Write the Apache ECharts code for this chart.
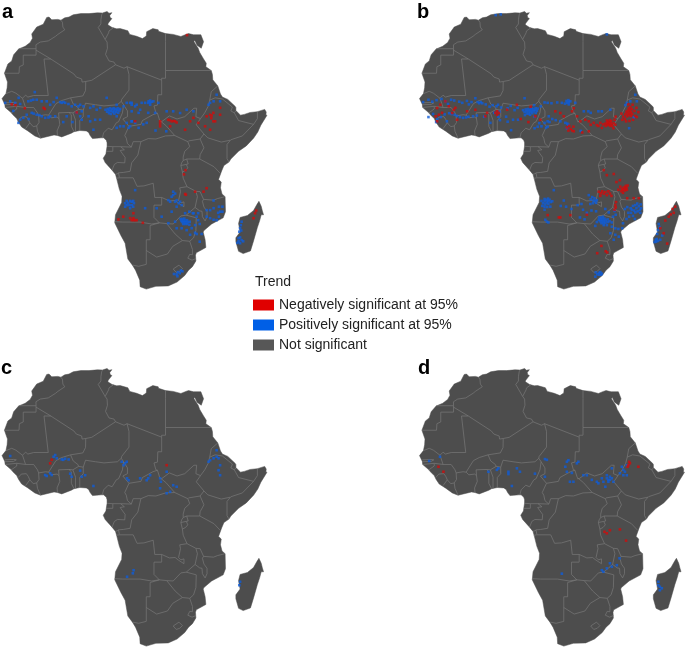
<!DOCTYPE html>
<html><head><meta charset="utf-8">
<style>html,body{margin:0;padding:0;background:#fff}#c{width:685px;height:647px}</style>
<script src="https://cdn.jsdelivr.net/npm/echarts@6/dist/echarts.min.js"></script>
</head><body><div id="c"></div>
<script>
const panelLabels = ['a','b','c','d'];
const legendNames = ['Negatively significant at 95%','Positively significant at 95%','Not significant'];
const legendTitle = 'Trend';

const coastline = [[-5.9,35.8],[-5.3,35.9],[-4.6,35.2],[-3,35.3],[-2.2,35.1],[-1.2,35.7],[-0.1,35.9],[1,36.5],[3,36.8],[5.1,36.8],[7.3,37],[8.6,36.95],[9.8,37.35],[10.3,36.9],[11.05,37.05],[10.5,36.3],[10.6,35.8],[11.05,35.5],[10.1,34.3],[10,33.9],[11.1,33.2],[12.3,32.85],[13.2,32.9],[15.2,32.35],[15.7,31.4],[17.5,30.9],[19,30.3],[20,31],[20.1,32.1],[21.7,32.9],[23.1,32.6],[23.2,32.2],[25,31.6],[27,31.4],[29,30.85],[30.3,31.4],[31,31.6],[32.3,31.3],[34.2,31.3],[34.9,29.5],[34.3,27.8],[33.2,28.6],[32.6,29.9],[32.4,29.5],[33.5,27.8],[33.9,26.7],[34.9,25],[35.6,23.9],[35.5,23],[36.9,22],[37.2,21],[37.3,19.6],[38.6,18],[39.3,15.9],[39.8,15.1],[41.2,14.5],[43.1,12.7],[43.3,12.4],[43.3,11.6],[44.5,10.4],[45.5,10.6],[47,11.1],[48.9,11.3],[50.8,11.9],[51.2,11.2],[51.1,10.4],[51.4,10.4],[50.8,9.4],[49.8,7.8],[49,6],[47.9,4.4],[46,2.4],[44,1],[42,-1],[41.5,-1.8],[40.2,-2.7],[39.6,-4.1],[38.8,-6.3],[39.5,-7],[39.3,-8.5],[39.7,-10.1],[40.5,-10.8],[40.6,-14.7],[40,-16.3],[37,-17.9],[35,-19.6],[34.8,-20],[35.3,-22],[35.5,-24],[33,-25.4],[32.8,-26],[32.9,-27.5],[32,-29],[31,-29.9],[30,-31.3],[28,-33],[25.7,-34],[22.5,-34.1],[20,-34.83],[18.4,-34.2],[18.3,-32.5],[17.2,-29.9],[16.4,-28.6],[15.2,-27],[14.5,-22.9],[13.4,-20.9],[11.8,-17.6],[12,-15.5],[13.6,-12.3],[13.7,-10.7],[13,-8.9],[12.3,-6.1],[12,-5],[11.1,-3.9],[9.3,-1.9],[8.8,-0.8],[9.5,0.3],[9.6,1],[9.8,2.3],[9.8,3.2],[9.6,3.9],[8.9,4.5],[8.3,4.5],[7,4.4],[6,4.3],[5.4,5.1],[5,5.9],[4.4,6.3],[2.7,6.4],[1.2,6.1],[0.5,5.7],[-2,4.75],[-3.1,5.1],[-4,5.25],[-7.5,4.4],[-9,5],[-10.8,6.3],[-12.4,7.3],[-13.2,8.5],[-13.7,9.5],[-14.7,10.5],[-15.1,11],[-16.7,12.4],[-16.8,13.2],[-17.53,14.7],[-16.5,16],[-16.2,17.5],[-16.1,19],[-16.9,21.3],[-16,23.7],[-15,24.5],[-14.5,26.1],[-13.2,27.6],[-11.5,28.3],[-10.2,29.3],[-9.6,30.4],[-9.8,31.5],[-8.5,33.3],[-6.8,34.05],[-5.9,35.8]];
const madagascar = [[49.3,-12],[49.9,-13.3],[50.2,-14.5],[50.5,-15.5],[49.9,-15.5],[49.5,-17],[48.9,-18.8],[47.9,-22.3],[47.1,-24.9],[45.2,-25.6],[44,-25],[43.3,-22.5],[43.3,-21.5],[44.4,-20],[44,-17.8],[44.4,-16.2],[46.3,-15.7],[47.9,-14.4],[48.8,-12.8],[49.3,-12]];

const borders = [
[[-2.2,35.1],[-1.8,34.5],[-1.7,33.3],[-1.2,32.6],[-3,31.4],[-3.6,30.9],[-5.5,29.7],[-7.6,29.4],[-8.7,28.7],[-8.67,27.67]],
[[-13.2,27.67],[-8.67,27.67],[-8.67,26],[-12,26],[-12,23.45],[-13,23],[-13.1,21.3],[-16.9,21.3]],
[[-8.67,27.3],[-4.83,25],[1.17,21.1],[1.8,20.3],[3.2,19.8],[3.3,19],[4.25,19.15],[5.8,19.45],[12,23.5],[11.6,24.2],[10.3,24.5],[9.4,26.2],[9.9,27.8],[9.8,29.4],[9.3,30.1],[7.5,33.2],[8.2,34.1],[8.2,35.2],[8.4,36.5],[8.6,36.95]],
[[-4.83,25],[-6.6,25],[-5.5,15.5],[-9.3,15.5],[-10.8,15.1],[-11.4,15.6],[-12.2,14.8]],
[[-16.5,16],[-15,16.6],[-13.9,16.1],[-12.2,14.8]],
[[9.3,30.1],[10.2,31.8],[10.3,32.3],[11.5,33.15]],
[[12,23.5],[14.2,22.6],[15,23],[24,19.5],[24,20],[25,20],[25,22],[25,29.5],[25,31.6]],
[[25,22],[36.9,22]],
[[24,19.5],[24,15.7],[23,15.7],[22.9,13],[22,12.8],[22.5,11],[22.9,10.9],[21.7,10.5],[19,9],[18.6,8],[15.5,7.5]],
[[15,23],[15.5,21],[15.5,16.9],[13.6,14.5],[13.5,14]],
[[14.1,13.1],[15.1,11.5],[15.1,10],[13.9,9.4],[15.5,7.5]],
[[4.25,19.15],[4.2,16.8],[3.5,15.4],[0.3,14.9],[1,13.3],[2.2,12.4],[2.4,11.9],[3.6,11.7],[4.2,13.5],[6.8,13.1],[9,12.8],[12.5,13.1],[13.5,14],[14.1,13.1]],
[[0.3,14.9],[-2,14.2],[-3.5,13.4],[-4.4,12],[-5.4,10.4],[-6.2,10.5],[-8,10.2],[-8.3,11],[-9.3,12.4],[-11.4,12.4],[-12.2,14.8]],
[[-11.4,12.4],[-13.7,12.7],[-16.7,12.4]],
[[-13.7,12.7],[-13.7,12],[-15.1,11]],
[[-16.8,13.6],[-14.5,13.7],[-13.8,13.6],[-14.5,13.2],[-16.8,13.1]],
[[-13.3,9],[-12.5,9.9],[-11.2,10],[-10.7,9.3],[-10.3,8.4],[-11.4,6.9]],
[[-10.3,8.4],[-9.4,7.4],[-8.5,7.6],[-8.3,6.2],[-7.5,4.4]],
[[-8.5,7.6],[-7.9,8.5],[-8,10.2]],
[[-5.4,10.4],[-4.7,9.7],[-3.2,9.9],[-2.7,9.5],[-2.5,8],[-3.2,6.3],[-3.1,5.1]],
[[-2.7,9.5],[-2.8,11],[-0.1,11.1],[0.5,10.5],[0.5,7.5],[1.2,6.1]],
[[-0.1,11.1],[0.9,11],[2.4,11.9]],
[[0.9,11],[1.6,9.1],[1.6,6.2]],
[[3.6,11.7],[3.6,10],[2.7,9],[2.7,6.4]],
[[8.6,4.6],[8.9,5.8],[10.1,7],[11.1,6.6],[12.2,8.4],[12.8,8.7],[13.8,11],[14.1,13.1]],
[[15.5,7.5],[14.4,5.1],[14.8,4.4],[15.1,3],[16.1,2.1],[13.3,2.2],[11.3,2.2],[9.8,2.3]],
[[11.3,2.2],[11.3,1],[9.6,1]],
[[13.3,2.2],[14.3,1.4],[13.2,1.2],[14.5,-0.6],[14.4,-2],[12.5,-1.9],[11.7,-2.4],[11.1,-3.9]],
[[16.1,2.1],[16.6,3.5],[18.6,3.5],[20.5,4.3],[22.5,4.2],[25,5],[27.4,5.1],[30.8,3.5]],
[[22.9,10.9],[23.5,9],[25.1,7.7],[27.4,5.1]],
[[23.5,8.7],[24,8.7],[26,10.2],[28,9.4],[30,10],[32.4,12.2],[33.1,12.2],[32.9,10],[34.1,9.5],[33,7.9],[35,5.5],[34,4.2],[31,3.7],[30.8,3.5]],
[[34.1,9.5],[35.2,11],[36.1,12.7],[36.5,14.3],[36.9,16.5],[38.6,18]],
[[36.5,14.3],[37.9,14.9],[39.8,14.6],[42.4,12.5],[42,11.5],[42.9,11],[43.3,11.5]],
[[42.9,11],[44,9],[47.9,8],[45,5],[42,4]],
[[48.9,11.3],[48.9,9.5],[47.9,8]],
[[41.9,3.9],[41,2.8],[41,-0.9],[41.5,-1.8]],
[[41.9,3.9],[39.5,3.4],[36,4.5],[35,5.5]],
[[34,4.2],[35,1.9],[34,0.1],[33.9,-1],[30.5,-1],[30.9,-2.3],[30.4,-2.4],[29,-2.7],[29.2,-2],[29.6,-1.4],[30.5,-1]],
[[30.8,3.5],[31.3,2.2],[30,1],[29.6,-0.5],[29.6,-1.4]],
[[29,-2.7],[29.4,-4.4],[30.2,-4],[30.8,-3.3],[30.4,-2.4]],
[[33.9,-1],[37.6,-3],[39.2,-4.7]],
[[29.4,-4.4],[29.6,-6],[30.6,-8.2],[32.9,-9.4]],
[[32.9,-9.4],[33.3,-10.8],[32.7,-13.6],[33.9,-14.5],[34.5,-14.6],[34.6,-16],[35.3,-17.1],[35.8,-16],[35.8,-14.6],[35,-13.5],[34.6,-12],[34.9,-11.5],[34,-9.5],[32.9,-9.4]],
[[34.9,-11.5],[37.5,-11.7],[38.5,-11.3],[40.5,-10.8]],
[[32.7,-13.6],[30.4,-15.6]],
[[30.6,-8.2],[28.7,-8.5],[28.9,-9.5],[28.4,-11.8],[29,-12.4],[29.8,-12.15],[29.8,-13.4],[28.4,-12.5],[27.5,-11.8],[26,-11.9],[24,-11],[24,-13],[22,-13],[22,-16.2],[23.4,-17.6]],
[[12.2,-6],[13,-5.9],[16.6,-5.9],[17.6,-8.1],[19.4,-8],[21.8,-7.3],[22.2,-11],[24,-11]],
[[12,-5],[12.8,-4.7],[13,-5.8]],
[[18.6,3.5],[17.8,0],[16.2,-2],[15.8,-4.2],[14,-4.5],[12.7,-4.6]],
[[11.8,-17.3],[13.9,-17.4],[18.4,-17.4],[21.4,-17.9],[23.4,-17.6],[25.3,-17.8]],
[[23.4,-17.6],[21,-18.3],[21,-22],[20,-22],[20,-28.4],[18,-28.9],[16.5,-28.6]],
[[20,-24.8],[22.7,-26.5],[25.5,-25.7],[26.9,-23.7],[29.4,-22.2],[27.5,-20.5],[25.3,-17.8],[27,-17.9],[29,-15.8],[30.4,-15.6],[33,-16.3],[32.9,-19.6],[32.3,-21.5],[31.3,-22.4],[29.4,-22.2]],
[[31.3,-22.4],[32,-24.5],[32,-25.9],[31.3,-25.8],[30.8,-26.8],[31.9,-27.3],[32.9,-26.9]],
[[27,-29.6],[28.5,-28.6],[29.4,-29.5],[28.7,-30.2],[27.8,-30.5],[27,-29.6]]
];

const aNegative = [[-15,13.2],[-14,13],[-11.6,12.2],[-6.7,12.3],[-6.4,12],[1.9,11.1],[30.6,31.2],[17.1,8.8],[23.6,8.8],[23.6,8.2],[23.6,7.5],[25.7,9.2],[26.1,9.1],[26.6,8.8],[27.1,8.9],[27.5,8.8],[27.9,8.5],[26.2,7.5],[30.1,6.6],[31.4,8.8],[32.25,9.7],[33.55,8.4],[35.7,10.1],[36.6,10.5],[37,10.3],[37.45,11],[37.9,8.8],[39.2,12.3],[39.2,10.5],[37.45,8.8],[36.6,6.6],[36.9,9.6],[35.3,7.5],[30.1,-10.1],[30.3,-10.3],[32.7,-9.5],[34.9,-9.5],[35.7,-8.6],[29.8,-5],[30.2,-3.9],[16.65,-15.1],[16.65,-16.4],[15.8,-16.4],[17.1,-16.9],[16.2,-16.9],[16.7,-16.9],[17.5,-16.9],[19.1,-17.6],[14,-16],[12.75,-16.7],[48.3,-15.1],[47.9,-16.4],[48.6,-14.4]];
const aPositive = [[-16.7,13.6],[-15.4,14],[-14.1,13.6],[-12.8,13.3],[-10.7,14],[-10,14.2],[-9.4,14.4],[-8.5,14.4],[-7.2,14],[-5.9,14],[-5,13.1],[-4.1,13.8],[-3.3,14.9],[-2.4,13.8],[-2,13.6],[-1.55,13.8],[-1.1,13.6],[-0.25,13.3],[0.6,12.7],[1.5,13.1],[2.35,12.7],[2.8,13.1],[3.65,12.7],[5.4,12.3],[6.25,12.7],[7.1,11.8],[8,12.3],[9.7,14.9],[12.3,13.1],[14.1,12.7],[14.9,13.6],[15.8,13.6],[16.2,13.1],[17.1,12.7],[-9,16.4],[-13.2,14.9],
[9.4,11.8],[9.8,11.3],[10,12],[10.3,11.6],[10.3,10.9],[10.6,12.2],[10.8,11.5],[10.8,10.7],[11.1,11.9],[11.3,11.2],[11.5,12.2],[11.7,11.6],[11.7,10.8],[12,12],[12.1,11.2],[12.4,11.7],[12.6,12.2],[12.7,11],[13,11.6],[13.2,12],
[-12.8,9.2],[-13.25,8.4],[-12,9.7],[-11.1,10.5],[-9.8,11],[-9.3,10.8],[-8.5,10.5],[-7.8,10.4],[-7.2,10.1],[-6.3,9.7],[-5.45,9.8],[-5,10.1],[-3.7,10.1],[-0.7,10.1],[1.9,11],[2.8,10.1],[3.2,9.2],[3.2,11.4],[5,10.1],[5.4,8.8],[6.7,9.2],[8,9.2],[6.25,6.6],[12.3,10.1],[13.2,7.5],[14.9,8.4],[15.8,7.5],[15.4,7.1],[16.2,8.8],[12.3,7.1],[14.1,7.5],[-14.6,11.5],[-10.6,9.4],[0.8,8.6],[-1.6,8.6],
[16.2,13.6],[17.5,13.1],[18.8,13.6],[19.7,13.6],[20.5,13.6],[21,14.2],[21,13.6],[21,13.1],[20.6,14],[21.4,13.9],[21.85,14],[23.15,13.6],[16.2,11.4],[18,11],[18.4,11.8],[20.5,11],[22.3,11],[25.3,11.4],[27,11.4],[28.8,10.95],[30.5,11.8],[32.25,11.4],[16.2,8.8],[17.1,8.4],[20.1,8.4],[19.2,8],[18,7.1],[36.6,13.6],[36.2,13.1],[37.5,14],[39.2,14],[38.3,15.7],[25.2,6.2],[22.4,6.4],
[14.5,-12.5],[14.9,-11.9],[15.3,-12.4],[15.8,-11.9],[16.2,-12.1],[16.6,-11.9],[16.8,-12.5],[14.9,-13],[15.6,-13],[16.2,-13],[14.5,-13.4],[15.8,-13.8],[16.6,-13.4],[17.1,-9.1],[19.7,-13.8],[22.7,-13.8],[27,-10.4],[25.75,-11.7],[26.2,-12.1],[27.5,-12.1],[27.9,-11.7],[28.4,-12.5],[28.8,-12.1],[29.2,-13],[27.5,-10],[27,-9.5],[26.6,-10.8],[27.9,-13.4],[24,-16],[26.6,-14.7],[25.75,-17.7],
[28.9,-16.6],[29.4,-16.6],[29.9,-16.5],[29.1,-17],[29.6,-17],[30.1,-17],[30.6,-16.9],[29.3,-17.4],[29.8,-17.4],[30.3,-17.4],[30.8,-17.4],[31.3,-17.3],[29.6,-17.9],[30.1,-17.9],[30.6,-17.9],[31.2,-18.1],[27.5,-17.3],[27.9,-19],[29.2,-19],[30.5,-19.5],[31.8,-19],[32.7,-18.2],[33.1,-16],[33.5,-15.1],[33.5,-16.9],[33.9,-17.9],[32.1,-15.1],[30.1,-15.1],[31.2,-14.7],[32.3,-15.1],[33.1,-20.5],[34.4,-20.5],[33.9,-22.5],[32.7,-20.2],[31.4,-20.7],
[35.7,-16],[35.7,-14.3],[36.6,-16.4],[36.6,-14.3],[37.5,-16.8],[38.3,-16.9],[38.9,-13.4],[38.9,-16],[39.2,-14.7],[39.8,-14.7],[37.5,-13.8],[37.5,-11.8],[39.8,-13.4],[38.7,-15],
[44.8,-17.3],[44.6,-18.2],[44.4,-19],[44.7,-19.6],[44.2,-19.9],[44,-21.6],[44.4,-21.4],[44.8,-22.1],[44,-22.4],[43.7,-22.8],[44.4,-22.9],[45.2,-22.4],[27.2,-30.9],[27.9,-31],[28.2,-30.4],[28.7,-30.7],[29,-30],[28.1,-31.5],[29.4,-30.2]];

const bNegative = [[-12.95,12.26],[-12.1,13.1],[-12.5,10.5],[-13.3,10.1],[-11.65,11],[-8.6,11.8],[-8.2,12.3],[-9.05,10.95],[-9.9,12.7],[-10.8,14],[0.05,11],[2.65,11.4],[2.65,10.5],[2.2,11],[3.1,11],[-0.4,10.1],[7.8,13.1],[12.6,10.1],[13.9,9.2],[-7.75,9.2],[-12.95,8.8],[-5.15,11.4],[-3,11.8],[5.25,11.8],[8.8,9.4],[10.8,8.6],[11.4,12.6],
[36,10.6],[36.3,11.3],[36.5,10.1],[36.6,10.8],[36.7,11.6],[36.9,12.2],[37,10.4],[37.1,11],[37.2,11.7],[37.3,12.5],[37.5,10.2],[37.5,11.2],[37.7,12],[37.8,10.7],[35.5,10],[35.2,9.2],[35.9,9.4],[36.2,8.8],[37.1,8.9],[38,9.2],[38.6,10.2],[38.4,11.5],[38.9,12.3],[39,9.9],[39.4,11.2],[36.8,13.2],[37.9,13.1],[35,10.8],
[30.8,8.2],[30.9,7.6],[31.2,9],[31.3,8.4],[31.4,7.8],[31.6,8.7],[31.7,8],[32,9.1],[32,8.4],[32.1,7.6],[32.3,8.8],[32.4,8.1],[32.6,7.6],[29,7.6],[29.5,8.4],[29.9,7.1],[30.2,8],[28.6,7.8],[33,8.3],[33.2,9.2],[33.4,7.9],[32.9,7],[33.5,10],[20.8,7.2],[21.2,6.4],[21.4,7.6],[21.8,6.8],[22.2,6.4],[22.5,7.4],[22.6,6.2],[22.15,11.4],[22.6,12.2],[23.45,10.1],[24.3,8.8],[25.6,9.2],[26.5,8.8],[27.8,8.4],[27,7.9],[19.1,10.95],[17.8,11.4],[20,10.1],[24.8,5.9],[26.5,6.2],
[34.7,-8.2],[35,-9.4],[35.1,-8.8],[35.4,-9.8],[35.5,-9],[35.6,-8.4],[35.9,-9.2],[36,-8.7],[36.1,-8],[36.3,-8.5],[36.4,-9],[36.6,-7.9],[34.2,-9],[34.6,-6.5],[33.7,-7],[33,-4.9],[31.2,-5.2],[30.4,-3.9],[29.1,-9.5],[29.6,-9.9],[30,-9.4],[30.4,-10],[30.8,-9.6],[31.2,-10.4],[31.6,-9.4],[32,-10],[32.4,-10.6],[29.5,-10.6],[33.4,-13],[33.5,-13.6],[33.2,-14.2],[33.6,-12.2],[19.1,-16.2],[18.7,-16.2],[15.8,-15.6],[21.7,-15.6],[26,-15.5],[39.5,-11.2],[36.5,-11.2],[38.2,-11.2],[31.3,-25.3],[30.9,-25],[28.7,-25.5],[29.8,-23.6],[46,-20.3],[46.4,-17],[47.3,-16],[48.6,-15],[49,-13.4],[45.1,-19],[46.9,-23],[47.8,-15.4],[48.3,-14]];
const bPositive = [[31.2,31.4],[2.3,36.4],[3.6,36.6],[-16.6,13.8],[-15.2,14.4],[-14.2,13.9],[-13.1,14.3],[-11.8,14.6],[-10.8,14],[-10.1,13.3],[-9.3,14.4],[-8.5,14.2],[-7.2,13.9],[-6.4,13.6],[-5.2,14.1],[-4.7,13.2],[-4,13.8],[-3,14.8],[-2.4,13.8],[-2,13.5],[-1.6,13.8],[-1.2,13.5],[-0.3,13.2],[0.7,12.6],[1.5,13],[2.5,12.7],[2.9,13.1],[3.7,12.4],[5.4,12.2],[6.2,12.8],[7.2,11.7],[8,12.3],[9.8,14.8],[12.3,13],[14,12.7],[15,13.7],
[9.4,11.7],[9.8,11.2],[10.1,11.9],[10.3,11.4],[10.4,10.8],[10.7,12],[10.8,11.4],[10.9,10.8],[11.2,11.8],[11.3,11.2],[11.6,12.1],[11.7,11.5],[11.8,10.9],[12.1,12],[12.2,11.4],[12.5,11.8],[12.7,12.2],[12.7,11],[13,11.5],[13.2,12.1],[9.9,10.4],[11.2,10.5],
[-14,10.7],[-12.9,9.4],[-13.2,8.6],[-12,9.9],[-11,10.6],[-9.8,10.9],[-9.2,10.7],[-8.4,10.5],[-7.8,10.2],[-7,9.9],[-6.2,9.7],[-5.4,9.8],[-4.8,10],[-3.6,10.1],[-2.6,10.3],[-0.7,10],[1.9,11],[3,10],[3.4,9.1],[3.3,11.3],[5,10],[5.4,8.7],[6.8,9.2],[8.1,9.2],[6.3,6.5],[12.4,10],[13.2,7.4],[13.6,8.3],[15,8.4],[15.8,7.4],[15.4,7.1],[16.3,8.6],[12.4,7],[14.2,7.5],[-15.2,9.9],[-10.4,8.8],[0.9,8.4],
[15.8,13.6],[16.8,13.5],[18.3,13.7],[19.5,13.6],[20.3,13.4],[20.7,14.1],[20.9,13.6],[21.2,14.3],[21.3,13.8],[21.7,14],[21.3,13.2],[23,13.6],[16.1,10.1],[17,9.4],[15.8,8.8],[20.4,8.4],[20.9,8.2],[21.2,7.9],[20.8,7],[17.9,9.1],[19.1,8.8],[25.2,11.4],[26.4,11.4],[27,11],[29,11.4],[29.9,11.4],[32.1,11.8],[36.4,13.6],[37.3,14],[36,13],[38.6,15.7],[39,14],[38.2,9.8],[37,7],[24.4,6.3],
[14.2,-11.9],[14.6,-12.5],[15,-11.4],[15,-12],[15.2,-12.8],[15.5,-11.6],[15.6,-12.3],[15.9,-11.3],[16,-12],[16,-12.7],[16.3,-11.6],[16.6,-12.2],[17,-12],[14.4,-13.2],[15,-13.4],[15.7,-13.5],[16.5,-13.4],[15,-14.2],[17.4,-9.1],[15.2,-16.8],[15.6,-17.3],[16,-17.5],[20,-11.8],[20.6,-13.4],[22,-14],[23.6,-13],[24.6,-12.7],[26.5,-10.4],[27,-11.5],[27.4,-10.9],[27.7,-11.8],[28,-11.2],[28.2,-11.9],[28.4,-12.4],[28.6,-11.7],[27.6,-12.5],[26.9,-12.7],[25,-14.2],[26,-15],[24.2,-16.2],[25.4,-16.7],[27.2,-14.4],[28.4,-14.6],[19.2,-13.2],
[29.2,-16.2],[29.7,-16.2],[30.2,-16],[29.1,-16.8],[29.6,-16.7],[30.1,-16.6],[30.6,-16.5],[29.4,-17.2],[29.9,-17.1],[30.4,-17.1],[30.9,-17],[31.4,-16.7],[29.8,-17.7],[30.3,-17.6],[30.8,-17.6],[31.4,-17.4],[31.9,-17.2],[30.4,-18.2],[31.2,-18.2],[28.6,-17.4],[28.2,-18.4],[32.5,-17.5],[32.5,-18.6],[33.4,-19],[33.4,-20.7],[34.2,-19.2],[34.3,-21.2],[33,-22],[32.1,-20.3],[33.2,-14.5],[31.7,-14.9],[30.8,-14],[33.5,-15.5],[32.8,-16],
[36.5,-13.5],[36.8,-15],[37,-16],[37.4,-13.8],[37.5,-15],[37.7,-14.2],[38,-13.2],[38,-15.8],[38.3,-14.4],[38.6,-13],[38.6,-14.9],[38.9,-13.8],[39.1,-12.6],[39.2,-14.6],[39.5,-13.3],[39.8,-14.2],[40,-12.8],[40.1,-13.8],[39.9,-15],[38.5,-16.6],[36.3,-16.6],[35.9,-14],[35.4,-17.7],[35.2,-19],
[44.7,-17.9],[44.5,-19.5],[44.9,-18.7],[44.3,-20.5],[44.2,-21.8],[43.9,-22],[44,-22.5],[43.6,-22.6],[44.5,-22.3],[45.1,-22],[45.6,-20.9],[28.3,-30.5],[28.7,-31],[29.1,-30.6],[29.5,-30.4],[29.9,-30.8],[29.7,-31.1],[29.2,-31.1],[28.2,-31.6]];

const cNegative = [[-4.6,13.6],[-5,12.7],[25.3,12.2]];
const cPositive = [[-15.4,14.6],[-3.7,14.85],[-4.1,14.4],[-3.3,14],[-2,13.7],[-1.6,13.6],[-1.1,13.9],[-0.2,13.7],[-6.3,9.65],[-5,10.1],[-4.6,9.65],[-5.9,9.4],[2.8,10.8],[0.2,10],[0.6,9.2],[3.2,9.2],[4.1,9.6],[6.25,6.8],[13.6,13.1],[14.5,12.7],[14.9,13.1],[14.1,12.2],[15.4,8.3],[15,8.8],[18.4,8.8],[20.1,8.3],[20.5,8.8],[21,9.6],[23.6,8.8],[23.8,7.9],[23.6,6.2],[25.3,4.9],[26.2,5.3],[27,7],[27.9,6.6],[25.3,10.5],[36.6,13.5],[36.2,13.1],[37.5,14],[38.8,14],[38.3,14.4],[39.2,12.2],[38.8,10.9],[39.2,9.6],[38.3,16.1],[16.7,-15.1],[16.5,-15.9],[15,-16.8],[44.4,-18.1],[44.2,-19]];

const dNegative = [[37.2,12.7],[36.8,12.2],[37,13.1],[36.6,11.8],[39.4,11.8],[-11.3,10.5],[-12.6,11.8],[30.6,-5.1],[32,-4.7],[34.6,-4.5],[36.2,-7.4],[31.2,-5.5]];
const dPositive = [[-12.2,14.4],[15.6,13.6],[15.1,13.8],[20.8,13.1],[21.2,13.5],[23.4,12.7],[23.8,13.1],[20.4,11.8],[20.8,10.5],[15.1,9.2],[21.6,7.9],[22.5,7.9],[22.1,10.2],[25.1,9.6],[26,9.6],[27.3,8.4],[28.6,7.9],[29.9,8.8],[30.3,7.9],[31.2,8.8],[31.6,7.9],[32,8.4],[32.5,8.8],[31.2,9.6],[32,9.2],[31.6,8.4],[30.8,6.6],[29,7.5],[32.9,7.9],[32.5,11.4],[34.6,10.1],[35.5,11],[35.9,10.5],[35.5,9.6],[36.4,9.6],[35.1,11.8],[36.4,12.2],[5.6,10.5],[5.6,9.9],[2.6,11],[3,11.4],[0.4,10.5],[6.5,6.8],[8.6,10.5],[7.8,11.4],[12.5,10],[30.3,-15.5],[31.2,-14.6],[32.5,-14.2],[32,-13.3],[29.9,-15.1],[33.8,-13.8],[19.5,-16],[44.6,-18.1],[45,-19.4],[45.5,-19.8],[44.6,-19],[45,-20.3],[34.5,-12],[-15,13.3]];

const negativeByPanel = [aNegative,bNegative,cNegative,dNegative];
const positiveByPanel = [aPositive,bPositive,cPositive,dPositive];

const BLUE='#0f5cd8', RED='#cf0c0c', LAND='#4d4d4d', EDGE='#787878';

echarts.registerMap('africa',{type:'FeatureCollection',features:[{type:'Feature',properties:{name:'Africa'},geometry:{type:'MultiPolygon',coordinates:[[coastline],[madagascar]]}}]});

const boxes=[{left:2,top:11.5},{left:419.5,top:11.5},{left:2,top:368.5},{left:419.5,top:368.5}];
const geo=boxes.map(b=>({map:'africa',left:b.left,top:b.top,width:265,height:277.6,aspectScale:1,roam:false,silent:true,
  itemStyle:{areaColor:LAND,borderColor:LAND,borderWidth:0.5},label:{show:false},emphasis:{disabled:true},select:{disabled:true}}));

const series=[];
panelLabels.forEach((p,i)=>{
  series.push({type:'custom',coordinateSystem:'geo',geoIndex:i,silent:true,z:2,clip:false,
    data:borders.map((c,k)=>[c[0][0],c[0][1],k]),
    renderItem:(params,api)=>({type:'polyline',silent:true,
      shape:{points:borders[api.value(2)].map(pt=>api.coord(pt))},
      style:{fill:null,stroke:EDGE,lineWidth:0.7}})});
  series.push({type:'scatter',name:legendNames[1],coordinateSystem:'geo',geoIndex:i,symbol:'rect',symbolSize:2.6,silent:true,z:3,
    itemStyle:{color:BLUE},data:positiveByPanel[i]});
  series.push({type:'scatter',name:legendNames[0],coordinateSystem:'geo',geoIndex:i,symbol:'rect',symbolSize:2.6,silent:true,z:4,
    itemStyle:{color:RED},data:negativeByPanel[i]});
});
series.push({type:'scatter',name:legendNames[2],coordinateSystem:'geo',geoIndex:0,symbol:'rect',itemStyle:{color:'#575757'},data:[]});

const legendColors=['#e00000','#005fe6','#575757'];
const letterPos=[[2,2],[417,2],[1,358],[418,358]];
const chart=echarts.init(document.getElementById('c'),null,{renderer:'canvas'});
chart.setOption({
  animation:false,backgroundColor:'#fff',
  geo,series,
  legend:{orient:'vertical',left:253,top:298,itemWidth:21,itemHeight:11,itemGap:6,selectedMode:false,padding:0,
    data:legendNames.map((n,i)=>({name:n,icon:'rect',itemStyle:{color:legendColors[i],borderWidth:0,opacity:1}})),
    textStyle:{fontFamily:'Liberation Sans',fontSize:14,color:'#222',lineHeight:11,height:11}},
  title:[{text:legendTitle,left:255,top:275,padding:0,textStyle:{fontFamily:'Liberation Sans',fontSize:14,fontWeight:'normal',color:'#222'}}]
    .concat(panelLabels.map((t,i)=>({text:t,left:letterPos[i][0],top:letterPos[i][1],padding:0,textStyle:{fontFamily:'Liberation Sans',fontSize:20,fontWeight:'bold',color:'#000'}})))
});
</script></body></html>
